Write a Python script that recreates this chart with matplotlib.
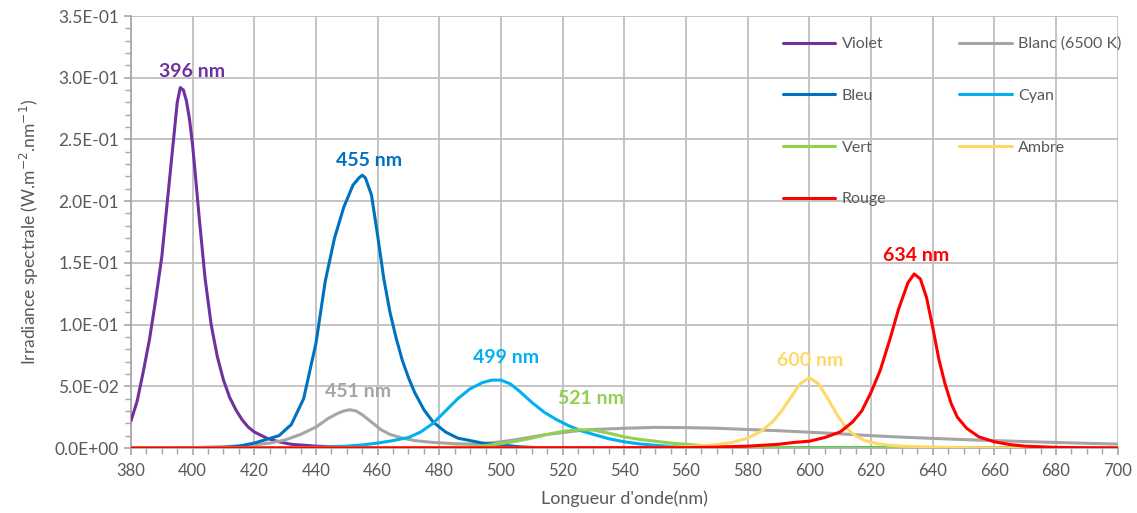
import matplotlib
matplotlib.use("Agg")
import matplotlib.pyplot as plt
from matplotlib.ticker import MultipleLocator, FuncFormatter
import numpy as np

plt.rcParams['font.family'] = ['Lato', 'DejaVu Sans']

# ---------------- data ----------------
violet_nm = [380, 382, 384, 386, 388, 390, 392, 394, 395, 396, 397, 398, 399, 400, 401, 402, 404, 406, 408,
             410, 412, 414, 416, 418, 420, 424, 428, 432, 440, 450, 460, 700]
violet_val = [0.022, 0.038, 0.062, 0.088, 0.120, 0.155, 0.205, 0.255, 0.280, 0.292, 0.290, 0.281, 0.266,
              0.245, 0.218, 0.190, 0.138, 0.100, 0.074, 0.055, 0.041, 0.031, 0.023, 0.017, 0.013, 0.008,
              0.005, 0.003, 0.0015, 0.0005, 0.0, 0.0]

blanc_nm = [380, 400, 410, 420, 425, 430, 435, 440, 444, 447, 449, 451, 453, 455, 458, 461, 464, 468, 472,
            478, 485, 490, 495, 500, 505, 510, 515, 520, 525, 530, 540, 550, 560, 570, 580, 590, 600, 610,
            620, 630, 640, 650, 660, 670, 680, 690, 700]
blanc_val = [0.0, 0.0003, 0.001, 0.0025, 0.004, 0.0065, 0.011, 0.017, 0.024, 0.028, 0.030, 0.031, 0.030,
             0.027, 0.021, 0.015, 0.011, 0.008, 0.006, 0.0045, 0.0035, 0.0032, 0.0038, 0.005, 0.0068,
             0.009, 0.011, 0.0125, 0.014, 0.015, 0.016, 0.0167, 0.0165, 0.016, 0.015, 0.014, 0.0128,
             0.0115, 0.010, 0.0088, 0.0078, 0.0068, 0.006, 0.0052, 0.0045, 0.0038, 0.0032]

bleu_nm = [380, 410, 415, 420, 424, 428, 432, 436, 440, 443, 446, 449, 452, 454, 455, 456, 458, 460, 462,
           464, 466, 468, 470, 472, 475, 478, 482, 486, 490, 494, 498, 502, 506, 512, 520, 700]
bleu_val = [0.0, 0.0005, 0.0015, 0.004, 0.007, 0.010, 0.019, 0.040, 0.085, 0.135, 0.170, 0.195, 0.213,
            0.219, 0.221, 0.219, 0.205, 0.172, 0.137, 0.110, 0.089, 0.071, 0.057, 0.045, 0.031, 0.021,
            0.013, 0.008, 0.006, 0.004, 0.003, 0.002, 0.001, 0.0003, 0.0, 0.0]

cyan_nm = [380, 440, 450, 455, 460, 465, 470, 474, 478, 482, 486, 490, 494, 497, 500, 503, 506, 510, 514,
           518, 522, 526, 530, 535, 540, 545, 550, 555, 560, 570, 580, 700]
cyan_val = [0.0, 0.0005, 0.0015, 0.0025, 0.004, 0.006, 0.0085, 0.013, 0.020, 0.030, 0.040, 0.048, 0.053,
            0.055, 0.055, 0.052, 0.046, 0.037, 0.029, 0.023, 0.018, 0.014, 0.011, 0.0075, 0.005, 0.0033,
            0.0022, 0.0013, 0.0008, 0.0003, 0.0, 0.0]

vert_nm = [380, 480, 490, 495, 500, 505, 510, 515, 520, 525, 530, 535, 540, 545, 550, 555, 560, 565, 570,
           580, 590, 600, 700]
vert_val = [0.0, 0.0003, 0.001, 0.002, 0.0035, 0.0055, 0.008, 0.011, 0.0135, 0.0148, 0.0145, 0.012,
            0.009, 0.007, 0.0055, 0.004, 0.003, 0.002, 0.0013, 0.0005, 0.0002, 0.0, 0.0]

ambre_nm = [380, 550, 560, 565, 570, 575, 580, 584, 588, 591, 594, 597, 600, 603, 606, 609, 612, 615, 618,
            622, 626, 630, 640, 650, 660, 670, 700]
ambre_val = [0.0, 0.0003, 0.001, 0.0018, 0.0028, 0.0045, 0.008, 0.013, 0.021, 0.030, 0.041, 0.052, 0.057,
             0.052, 0.040, 0.027, 0.016, 0.010, 0.006, 0.0035, 0.0022, 0.0015, 0.0007, 0.0003, 0.0001,
             0.0, 0.0]

rouge_nm = [380, 560, 570, 580, 590, 595, 600, 605, 610, 614, 617, 620, 623, 626, 629, 632, 634, 636, 638,
            640, 642, 644, 646, 648, 651, 655, 660, 665, 670, 680, 690, 700]
rouge_val = [0.0, 0.0003, 0.0007, 0.0015, 0.003, 0.0045, 0.0055, 0.0085, 0.013, 0.021, 0.030, 0.045,
             0.063, 0.087, 0.113, 0.134, 0.141, 0.137, 0.122, 0.098, 0.072, 0.052, 0.036, 0.025, 0.016,
             0.009, 0.005, 0.0028, 0.0015, 0.0005, 0.0002, 0.0001]

series_names = ["Violet", "Blanc (6500 K)", "Bleu", "Cyan", "Vert", "Ambre", "Rouge"]
peak_labels = ["396 nm", "451 nm", "455 nm", "499 nm", "521 nm", "600 nm", "634 nm"]
peak_label_pos = [(399.8, 0.3047), (453.6, 0.046), (457.2, 0.2326), (501.6, 0.0737), (529.2, 0.0405),
                  (600.2, 0.0705), (634.5, 0.1556)]

colors = ["#7030A0", "#A5A5A5", "#0070C0", "#00B0F0", "#92D050", "#FFD966", "#FF0000"]

data = [(violet_nm, violet_val), (blanc_nm, blanc_val), (bleu_nm, bleu_val), (cyan_nm, cyan_val),
        (vert_nm, vert_val), (ambre_nm, ambre_val), (rouge_nm, rouge_val)]

# ---------------- figure ----------------
fig = plt.figure(figsize=(11.37, 5.13), dpi=100)
ax = fig.add_axes([0.1152, 0.1267, 0.983 - 0.1152, 0.9688 - 0.1267])

handles = {}
for name, (x, y), c in zip(series_names, data, colors):
    h, = ax.plot(x, y, color=c, lw=2.2, solid_joinstyle='round', solid_capstyle='round', zorder=3)
    handles[name] = h

for txt, (px, py), c in zip(peak_labels, peak_label_pos, colors):
    ax.text(px, py, txt, color=c, fontsize=14, fontweight='bold', ha='center', va='center', zorder=4)

ax.set_xlim(380, 700)
ax.set_ylim(0, 0.35)
ax.xaxis.set_major_locator(MultipleLocator(20))
ax.xaxis.set_minor_locator(MultipleLocator(5))
ax.yaxis.set_major_locator(MultipleLocator(0.05))
ax.yaxis.set_minor_locator(MultipleLocator(0.01))
ax.yaxis.set_major_formatter(FuncFormatter(lambda v, p: f"{v:.1E}"))

ax.grid(True, which='major', color='#BFBFBF', lw=1.3, zorder=0)
ax.set_axisbelow(True)
for s in ['top', 'right']:
    ax.spines[s].set_visible(False)
for s in ['left', 'bottom']:
    ax.spines[s].set_color('#A6A6A6')
    ax.spines[s].set_linewidth(1.2)

ax.tick_params(axis='both', which='major', colors='#A6A6A6', labelcolor='#595959', labelsize=12.5,
               length=5, width=1.2)
ax.tick_params(axis='both', which='minor', colors='#A6A6A6', length=4, width=1.0)
ax.tick_params(axis='x', pad=6, labelsize=12)

ax.set_xlabel("Longueur d'onde(nm)", fontsize=13, color='#595959', labelpad=8)
ax.set_ylabel("Irradiance spectrale (W.m$^{-2}$.nm$^{-1}$)", fontsize=12.5, color='#595959', labelpad=10)

order = ["Violet", "Bleu", "Vert", "Rouge", "Blanc (6500 K)", "Cyan", "Ambre"]
leg = ax.legend([handles[n] for n in order], order, ncol=2, loc='upper left',
                bbox_to_anchor=(0.646, 0.985), frameon=False, fontsize=11.5, labelcolor='#595959',
                handlelength=3.3, handletextpad=0.4, labelspacing=2.35, columnspacing=4.55)

fig.savefig("out.png", dpi=100)
